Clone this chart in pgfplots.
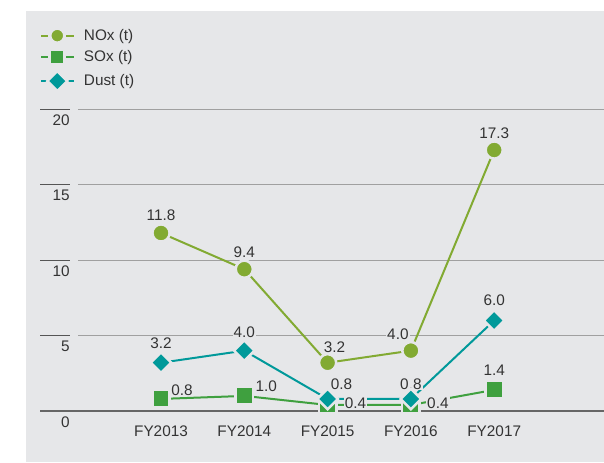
\documentclass[border=0pt]{standalone}
\usepackage{fontspec}
\setmainfont{Liberation Sans}
\usepackage{pgfplots}
\pgfplotsset{compat=1.18}
\definecolor{bg}{HTML}{E6E7E9}
\definecolor{nox}{HTML}{82AA32}
\definecolor{sox}{HTML}{3FA03F}
\definecolor{dust}{HTML}{00999A}
\definecolor{txt}{HTML}{333333}
\definecolor{gridc}{HTML}{A0A0A0}
\definecolor{tickc}{HTML}{555555}
\newcommand{\lbl}[5]{\node[lbl] at ([shift={(#3*0.75pt,-#4*0.75pt)}]axis cs:#1,#2) {#5};}
\begin{document}
\begin{tikzpicture}[lbl/.style={fill=bg,inner sep=0.8pt,text=txt,font=\fontsize{11.5}{13}\selectfont}]
\useasboundingbox (0,0) rectangle (453pt,346.5pt);
\begin{scope}[x=0.75pt,y=0.75pt]
\fill[white] (0,0) rectangle (604,462);
\fill[bg] (26,0) rectangle (604,451);
\end{scope}
\begin{axis}[
  at={(58.5pt,38.25pt)}, anchor=south west,
  scale only axis, width=394.5pt, height=226.3pt,
  xmin=-0.9964, xmax=5.318, ymin=0, ymax=20,
  clip=false,
  axis line style={draw=none},
  major tick length=0pt,
  xtick={0,1,2,3,4},
  xticklabels={FY2013,FY2014,FY2015,FY2016,FY2017},
  ytick={0,5,10,15,20},
  ymajorgrids,
  major grid style={gridc, line width=0.75pt},
  tick label style={font=\fontsize{11.5}{13}\selectfont, text=txt},
  /pgf/number format/assume math mode=true,
  xticklabel style={yshift=-7.6pt},
  yticklabel style={anchor=north east, inner sep=0pt, xshift=-6pt, yshift=-4pt},
  legend image code/.code={
    \draw[#1,mark=none] (0pt,0pt) -- (5.25pt,0pt);
    \draw[#1,mark=none] (18.75pt,0pt) -- (24.75pt,0pt);
    \path[#1] plot[mark size=5.3pt] coordinates {(12pt,0pt)};
  },
  legend style={at={(axis description cs:-0.0722,1.271)}, anchor=north west,
    draw=none, fill=none, inner sep=0pt, row sep=4.4pt, column sep=5.5pt,
    font=\fontsize{11.5}{13}\selectfont, text=txt,
    nodes={inner sep=1pt}},
  legend cell align=left,
]
\pgfplotsinvokeforeach{5,10,15,20}{
  \draw[tickc, line width=0.75pt] ([xshift=-28.5pt]axis cs:-0.9964,#1) -- ([xshift=-6pt]axis cs:-0.9964,#1);
}
\draw[tickc!90, line width=0.9pt] ([xshift=-28.5pt]axis cs:-0.9964,0) -- (axis cs:5.318,0);

\addplot[nox, line width=1.5pt, mark=*, mark size=6.45pt,
  mark options={fill=nox, draw=bg, line width=1.9pt}]
  coordinates {(0,11.8) (1,9.4) (2,3.2) (3,4.0) (4,17.3)};
\addlegendentry{NOx (t)}
\addplot[sox, line width=1.5pt, mark=square*, mark size=6.55pt,
  mark options={fill=sox, draw=bg, line width=1.9pt}]
  coordinates {(0,0.8) (1,1.0) (2,0.4) (3,0.4) (4,1.4)};
\addlegendentry{SOx (t)}
\addplot[dust, line width=1.5pt, mark=square*, mark size=5.45pt,
  mark options={fill=dust, draw=bg, line width=1.9pt, rotate=45}]
  coordinates {(0,3.2) (1,4.0) (2,0.8) (3,0.8) (4,6.0)};
\addlegendentry{Dust (t)}

\lbl{0}{11.8}{0}{-18}{11.8}
\lbl{1}{9.4}{0}{-17}{9.4}
\lbl{2}{3.2}{7}{-16}{3.2}
\lbl{3}{4.0}{-13}{-16}{4.0}
\lbl{4}{17.3}{0}{-17}{17.3}
\lbl{0}{0.8}{21}{-9}{0.8}
\lbl{1}{1.0}{22}{-10}{1.0}
\lbl{2}{0.4}{28}{-2}{0.4}
\lbl{3}{0.4}{27}{-2}{0.4}
\lbl{4}{1.4}{0}{-20}{1.4}
\lbl{0}{3.2}{0}{-20}{3.2}
\lbl{1}{4.0}{0}{-18}{4.0}
\lbl{2}{0.8}{14}{-15}{0.8}
\lbl{3}{0.8}{0}{-15}{0.8}
\lbl{4}{6.0}{0}{-20}{6.0}
\end{axis}
\end{tikzpicture}
\end{document}
